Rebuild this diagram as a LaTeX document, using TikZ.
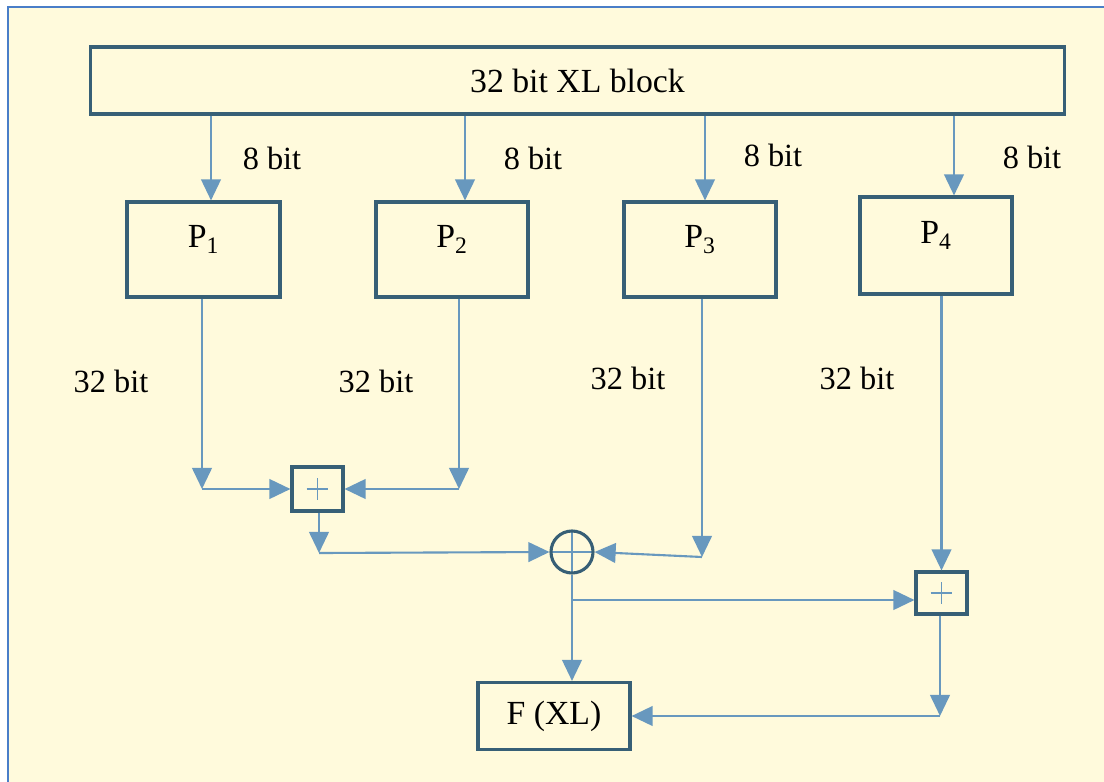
\documentclass[tikz,border=0pt]{standalone}
\usepackage{fontspec}
\setmainfont{Liberation Serif}
\usetikzlibrary{arrows.meta}

\definecolor{paper}{RGB}{255,250,220}
\definecolor{frameblue}{RGB}{74,126,200}
\definecolor{boxline}{RGB}{55,95,118}
\definecolor{arrowblue}{RGB}{104,152,190}

\begin{document}
\begin{tikzpicture}[
    x=0.025cm, y=-0.025cm,
    box/.style={draw=boxline, line width=2.2pt, fill=paper, inner sep=0pt, font=\fontsize{24}{28}\selectfont},
    sumbox/.style={box, minimum width=1.275cm, minimum height=1.1cm,
        path picture={\draw[arrowblue, line width=1pt]
            ([xshift=-0.27cm]path picture bounding box.center) -- ([xshift=0.27cm]path picture bounding box.center)
            ([yshift=-0.27cm]path picture bounding box.center) -- ([yshift=0.27cm]path picture bounding box.center);}},
    xorcirc/.style={circle, draw=boxline, line width=2.2pt, fill=paper, minimum size=1.05cm, inner sep=0pt,
        path picture={\draw[arrowblue, line width=1.2pt]
            (path picture bounding box.north) -- (path picture bounding box.south)
            (path picture bounding box.west) -- (path picture bounding box.east);}},
    arr/.style={draw=arrowblue, line width=1.5pt, -{Triangle[length=15pt, width=14pt]}},
    bits/.style={font=\fontsize{23}{27}\selectfont}
]

% --- Fondo ---
\useasboundingbox (0,0) rectangle (1104,782);
\fill[paper] (8,7) rectangle (1104,782);
\draw[frameblue, line width=1.5pt] (8,782) -- (8,7) -- (1104,7);

% --- Bloque superior ---
\node[box, minimum width=24.325cm, minimum height=1.675cm] (xl) at (577.5,80.5) {32 bit XL block};

% --- Cajas P ---
\node[box, minimum width=3.825cm, minimum height=2.375cm, label={[yshift=0.25cm, font=\fontsize{24}{28}\selectfont]center:P\textsubscript{1}}] (p1) at (203.5,249.5) {};
\node[box, minimum width=3.8cm, minimum height=2.375cm, label={[yshift=0.25cm, font=\fontsize{24}{28}\selectfont]center:P\textsubscript{2}}] (p2) at (452,249.5) {};
\node[box, minimum width=3.8cm, minimum height=2.375cm, label={[yshift=0.25cm, font=\fontsize{24}{28}\selectfont]center:P\textsubscript{3}}] (p3) at (700,249.5) {};
\node[box, minimum width=3.8cm, minimum height=2.425cm, label={[yshift=0.25cm, font=\fontsize{24}{28}\selectfont]center:P\textsubscript{4}}] (p4) at (936,245.5) {};

% Entradas de 8 bit
\foreach \p/\x in {p1/211, p2/465, p3/705, p4/954} {
    \coordinate (in-\p) at (\x,0);
    \draw[arr] (xl.south -| in-\p) -- (\p.north -| in-\p);
}
\node[bits] (b8a) at (272,158) {8 bit};
\node[bits] (b8b) at (533,158) {8 bit};
\node[bits] (b8c) at (773,155) {8 bit};
\node[bits] (b8d) at (1032,157) {8 bit};

% Etiquetas de 32 bit
\node[bits] (b32a) at (111,381) {32 bit};
\node[bits] (b32b) at (376,381) {32 bit};
\node[bits] (b32c) at (628,378) {32 bit};
\node[bits] (b32d) at (857,378) {32 bit};

% --- Sumadores y XOR ---
\node[sumbox] (s1) at (317.5,489) {};
\node[xorcirc] (xor) at (572,552) {};
\node[sumbox, minimum height=1.05cm] (s2) at (941.5,593) {};

% --- Salida ---
\node[box, minimum width=3.8cm, minimum height=1.675cm] (f) at (554,716) {F (XL)};

% P1 y P2 al primer sumador
\coordinate (c1) at (202,489);
\coordinate (c2) at (459,489);
\draw[arr] (p1.south -| c1) -- (c1);
\draw[arr] (c1) -- (s1.west);
\draw[arr] (p2.south -| c2) -- (c2);
\draw[arr] (c2) -- (s1.east);

% Sumador y P3 al XOR
\coordinate (c3) at (319,553);
\coordinate (c4) at (702,557);
\draw[arr] (s1.south -| c3) -- (c3);
\draw[arr] (c3) -- (xor.west);
\draw[arr] (p3.south -| c4) -- (c4);
\draw[arr] (c4) -- (xor.east);

% XOR a F(XL) y al segundo sumador
\coordinate (c5) at (572,600);
\draw[arr] (xor.south) -- (f.north -| xor.south);
\draw[arr] (c5) -- (s2.west |- c5);
\draw[arr] (p4.south -| s2.north) -- (s2.north);

% Segundo sumador a F(XL)
\coordinate (c6) at (940,716);
\draw[arr] (s2.south -| c6) -- (c6);
\draw[arr] (c6) -- (f.east);

\end{tikzpicture}
\end{document}
